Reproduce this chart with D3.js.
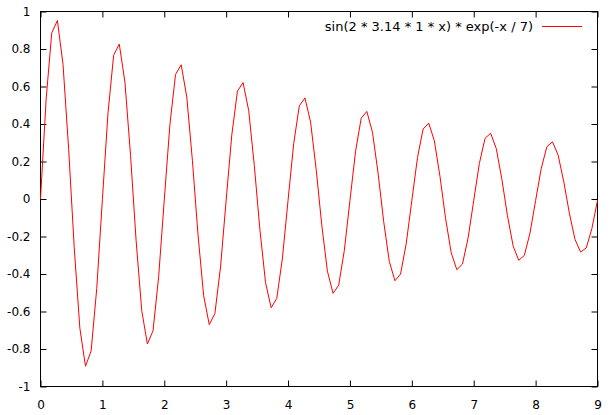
<html>
<head>
  <title>damped sine</title>
  <meta charset='utf-8' />
  <script src="https://d3js.org/d3.v7.min.js"></script>
</head>
<style>
  body { margin: 0; background: #fff; }
  svg { display: block; }
  .tick text { font-family: 'DejaVu Sans', sans-serif; font-size: 12px; fill: #000; }
  .tick line { stroke: #000; stroke-width: 1px; }
  .domain { display: none; }
  .legend text { font-family: 'DejaVu Sans', sans-serif; font-size: 13px; fill: #000; }
</style>
<body>
<div id='viz'>
  <svg width='613' height='415'></svg>
</div>
<script>
// samples of the curve (100 points over 0..9)
const xs = [
  0, 0.091, 0.182, 0.273, 0.364, 0.455, 0.545, 0.636, 0.727, 0.818, 0.909,
  1, 1.091, 1.182, 1.273, 1.364, 1.455, 1.545, 1.636, 1.727, 1.818, 1.909,
  2, 2.091, 2.182, 2.273, 2.364, 2.455, 2.545, 2.636, 2.727, 2.818, 2.909,
  3, 3.091, 3.182, 3.273, 3.364, 3.455, 3.545, 3.636, 3.727, 3.818, 3.909,
  4, 4.091, 4.182, 4.273, 4.364, 4.455, 4.545, 4.636, 4.727, 4.818, 4.909,
  5, 5.091, 5.182, 5.273, 5.364, 5.455, 5.545, 5.636, 5.727, 5.818, 5.909,
  6, 6.091, 6.182, 6.273, 6.364, 6.455, 6.545, 6.636, 6.727, 6.818, 6.909,
  7, 7.091, 7.182, 7.273, 7.364, 7.455, 7.545, 7.636, 7.727, 7.818, 7.909,
  8, 8.091, 8.182, 8.273, 8.364, 8.455, 8.545, 8.636, 8.727, 8.818, 8.909,
  9
];
const ys = [
  0, 0.533, 0.886, 0.952, 0.718, 0.265, -0.259, -0.689, -0.892, -0.810, -0.477,
  -0.003, 0.460, 0.767, 0.826, 0.624, 0.232, -0.222, -0.596, -0.773, -0.703, -0.415,
  -0.005, 0.397, 0.664, 0.716, 0.543, 0.204, -0.190, -0.515, -0.670, -0.611, -0.362,
  -0.006, 0.342, 0.575, 0.621, 0.472, 0.178, -0.163, -0.445, -0.580, -0.530, -0.315,
  -0.007, 0.295, 0.497, 0.539, 0.410, 0.156, -0.140, -0.385, -0.503, -0.460, -0.275,
  -0.008, 0.255, 0.431, 0.467, 0.356, 0.137, -0.120, -0.333, -0.436, -0.400, -0.239,
  -0.008, 0.220, 0.373, 0.405, 0.310, 0.120, -0.103, -0.287, -0.377, -0.347, -0.208,
  -0.008, 0.189, 0.323, 0.351, 0.269, 0.105, -0.088, -0.249, -0.327, -0.301, -0.182,
  -0.008, 0.163, 0.279, 0.305, 0.234, 0.092, -0.075, -0.215, -0.283, -0.261, -0.158,
  -0.008
];
const xTicks = [0, 1, 2, 3, 4, 5, 6, 7, 8, 9];
const yTicks = [-1, -0.8, -0.6, -0.4, -0.2, 0, 0.2, 0.4, 0.6, 0.8, 1];
const seriesName = 'sin(2 * 3.14 * 1 * x) * exp(-x / 7)';

const svg = d3.select('svg');
const mLeft = 40.5, mRight = 597.5, mTop = 11.5, mBottom = 386.5;

const x = d3.scaleLinear().domain([0, 9]).range([mLeft, mRight]);
const y = d3.scaleLinear().domain([-1, 1]).range([mBottom, mTop]);
const fmt = d => String(+d.toFixed(1));

// ticks point inward on all four sides, like gnuplot
svg.append('g')
  .attr('transform', `translate(0,${mBottom})`)
  .call(d3.axisBottom(x).tickValues(xTicks).tickSize(-6).tickPadding(14).tickFormat(fmt));
svg.append('g')
  .attr('transform', `translate(0,${mTop})`)
  .call(d3.axisTop(x).tickValues(xTicks).tickSize(-6).tickFormat(''));
svg.append('g')
  .attr('transform', `translate(${mLeft},0)`)
  .call(d3.axisLeft(y).tickValues(yTicks).tickSize(-6).tickPadding(10).tickFormat(fmt));
svg.append('g')
  .attr('transform', `translate(${mRight},0)`)
  .call(d3.axisRight(y).tickValues(yTicks).tickSize(-6).tickFormat(''));

svg.selectAll('g').attr('font-family', null).attr('font-size', null);

// frame
svg.append('rect')
  .attr('x', mLeft).attr('y', mTop)
  .attr('width', mRight - mLeft).attr('height', mBottom - mTop)
  .style('fill', 'none').style('stroke', '#000').style('stroke-width', '1px');

const line = d3.line()
  .x((d, i) => x(xs[i]))
  .y(d => y(d));

svg.append('path')
  .datum(ys)
  .attr('d', line)
  .style('fill', 'none')
  .style('stroke', '#ff0000')
  .style('stroke-width', '1px');

// legend
const legend = svg.append('g').attr('class', 'legend');
legend.append('text')
  .attr('x', 533).attr('y', 30.5)
  .attr('text-anchor', 'end')
  .text(seriesName);
legend.append('line')
  .attr('x1', 542).attr('x2', 582)
  .attr('y1', 26.5).attr('y2', 26.5)
  .style('stroke', '#ff0000').style('stroke-width', '1px');
</script>
</body>
</html>
